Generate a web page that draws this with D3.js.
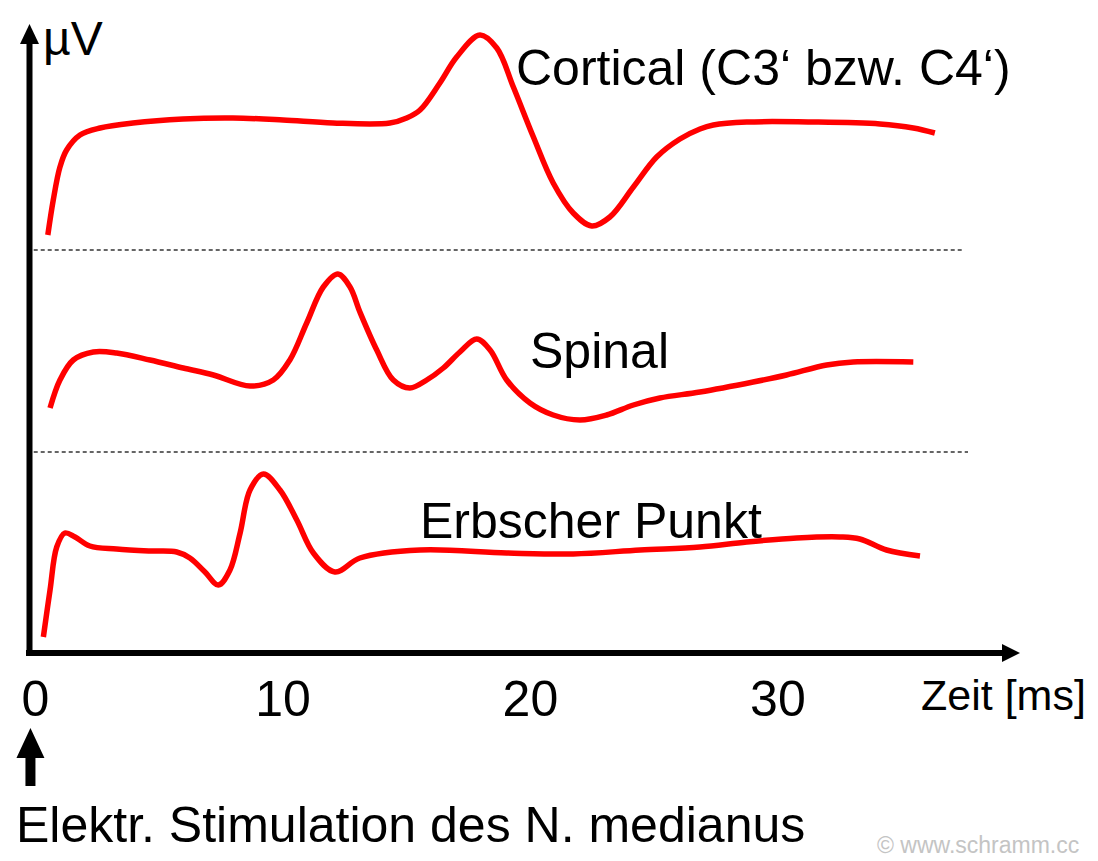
<!DOCTYPE html>
<html>
<head>
<meta charset="utf-8">
<script src="https://cdn.jsdelivr.net/npm/d3@7"></script>
<style>
  html, body { margin: 0; padding: 0; background: #fff; }
  svg { display: block; }
  text { font-family: "Liberation Sans", Arial, "DejaVu Sans", sans-serif; fill: #000; }
</style>
</head>
<body>
<svg id="chart" width="1098" height="861"></svg>
<script>
// ---- Data (time in ms, amplitude in arbitrary µV units, traces stacked) ----
const corticalTime = [0.52, 0.74, 1.01, 1.28, 1.82, 2.63, 3.96, 5.98, 8.00, 10.02, 12.04, 14.34, 15.02, 15.56, 16.36, 17.04, 17.98, 18.66, 19.33, 20.14, 20.94, 21.75, 22.50, 23.23, 24.18, 25.12, 26.06, 26.87, 27.41, 28.76, 31.45, 34.14, 35.49, 36.36];
const corticalValues = [41.8, 45.3, 48.6, 50.3, 51.8, 52.5, 53.0, 53.4, 53.5, 53.3, 53.0, 53.0, 53.5, 54.3, 57.0, 59.6, 61.8, 60.5, 56.6, 51.6, 47.0, 44.0, 42.7, 43.6, 46.6, 49.6, 51.4, 52.4, 52.8, 53.1, 53.1, 52.9, 52.5, 52.0];

const spinalTime = [0.61, 1.01, 1.55, 2.36, 3.30, 4.65, 5.99, 7.21, 8.69, 9.63, 10.30, 10.98, 11.65, 12.24, 12.73, 13.13, 13.81, 14.48, 15.15, 15.83, 16.50, 17.17, 17.85, 18.39, 19.06, 20.00, 20.94, 22.02, 23.10, 24.18, 25.25, 26.87, 29.02, 30.37, 31.99, 33.06, 35.49];
const spinalValues = [24.5, 27.3, 29.3, 30.1, 30.0, 29.3, 28.5, 27.8, 26.7, 27.3, 29.3, 33.0, 36.6, 37.9, 36.6, 34.1, 30.3, 27.3, 26.5, 27.3, 28.5, 30.1, 31.4, 30.3, 27.3, 25.0, 23.8, 23.3, 23.8, 24.8, 25.5, 26.1, 27.1, 27.8, 28.8, 29.1, 29.1];

const erbTime = [0.34, 0.61, 0.88, 1.21, 1.62, 2.22, 3.30, 4.65, 5.73, 6.26, 6.87, 7.41, 7.88, 8.29, 8.69, 9.23, 9.90, 10.58, 11.25, 12.12, 13.13, 15.56, 19.06, 21.75, 24.45, 26.87, 28.76, 30.78, 32.53, 33.33, 34.41, 35.76];
const erbValues = [1.6, 6.3, 10.6, 12.0, 11.6, 10.7, 10.4, 10.2, 10.1, 9.5, 8.1, 6.8, 8.3, 12.0, 16.3, 17.9, 16.3, 13.3, 10.0, 8.1, 9.5, 10.3, 10.0, 9.9, 10.3, 10.6, 11.1, 11.5, 11.6, 11.4, 10.3, 9.7];

const traceNames = ["Cortical (C3‘ bzw. C4‘)", "Spinal", "Erbscher Punkt"];
const separatorLevels = [40.3, 20.1];
const separatorEnd = [37.5, 37.7];
const tickValues = [0, 10, 20, 30];
const tickLabels = ["0", "10", "20", "30"];
const xAxisTitle = "Zeit [ms]";
const yAxisTitle = "µV";
const stimulusText = "Elektr. Stimulation des N. medianus";
const watermark = "© www.schramm.cc";

// ---- Scales ----
const x = d3.scaleLinear().domain([-0.2, 39.7]).range([30, 1017.5]);
const y = d3.scaleLinear().domain([0, 63]).range([653, 23]);

const svg = d3.select("#chart");

// separators
svg.selectAll("line.sep").data(separatorLevels).join("line")
  .attr("class", "sep")
  .attr("x1", x(-0.05)).attr("x2", (d, i) => x(separatorEnd[i]))
  .attr("y1", d => y(d)).attr("y2", d => y(d))
  .attr("stroke", "#333").attr("stroke-width", 1.6)
  .attr("stroke-dasharray", "4,3");

// traces
const traces = [
  { t: corticalTime, v: corticalValues },
  { t: spinalTime, v: spinalValues },
  { t: erbTime, v: erbValues }
];
const line = d3.line().x(d => x(d[0])).y(d => y(d[1])).curve(d3.curveCatmullRom.alpha(0.5));
svg.selectAll("path.trace").data(traces).join("path")
  .attr("class", "trace")
  .attr("d", d => line(d.t.map((t, i) => [t, d.v[i]])))
  .attr("fill", "none")
  .attr("stroke", "#ff0000")
  .attr("stroke-width", 5.5)
  .attr("stroke-linejoin", "round");

// axes lines with arrows
const x0 = x.range()[0];
const yBase = y(0);
svg.append("line").attr("x1", x0 - 0.5).attr("x2", x0 - 0.5).attr("y1", 42).attr("y2", yBase + 3)
  .attr("stroke", "#000").attr("stroke-width", 6);
svg.append("path").attr("d", `M${x0 - 0.5},24 L${x0 - 10},44 L${x0 + 9},44 Z`).attr("fill", "#000");

svg.append("line").attr("x1", x0 - 4).attr("x2", 1004).attr("y1", yBase).attr("y2", yBase)
  .attr("stroke", "#000").attr("stroke-width", 6);
svg.append("path").attr("d", `M1020,${yBase} L1002,${yBase - 9} L1002,${yBase + 9} Z`).attr("fill", "#000");

// x axis ticks (labels only)
const xAxis = d3.axisBottom(x).tickValues(tickValues).tickFormat((d, i) => tickLabels[i])
  .tickSize(0).tickPadding(27);
const gx = svg.append("g").attr("transform", `translate(0,${yBase})`).call(xAxis);
gx.select(".domain").remove();
gx.selectAll("text").style("font-size", "50px").attr("font-family", null).attr("fill", "#000");
gx.attr("font-family", null).attr("font-size", null);

// axis titles
svg.append("text").attr("x", 43).attr("y", 55).style("font-size", "48px").text(yAxisTitle);
svg.append("text").attr("x", 921).attr("y", 710).style("font-size", "43px").text(xAxisTitle);

// trace labels
const labelPos = [[516, 85], [530, 368], [420, 538]];
svg.selectAll("text.lbl").data(traceNames).join("text")
  .attr("class", "lbl")
  .attr("x", (d, i) => labelPos[i][0]).attr("y", (d, i) => labelPos[i][1])
  .style("font-size", "50px").text(d => d);

// stimulus arrow
svg.append("path")
  .attr("d", `M${x(0)-4.5},728 L${x(0)-18.5},758 L${x(0)-9.5},758 L${x(0)-9.5},786 L${x(0)+0.5},786 L${x(0)+0.5},758 L${x(0)+9.5},758 Z`)
  .attr("fill", "#000");
svg.append("text").attr("x", 16).attr("y", 842).style("font-size", "50px").text(stimulusText);

// watermark
svg.append("text").attr("x", 877).attr("y", 853).style("font-size", "23px").style("fill", "#c4c4c4").text(watermark);
</script>
</body>
</html>
